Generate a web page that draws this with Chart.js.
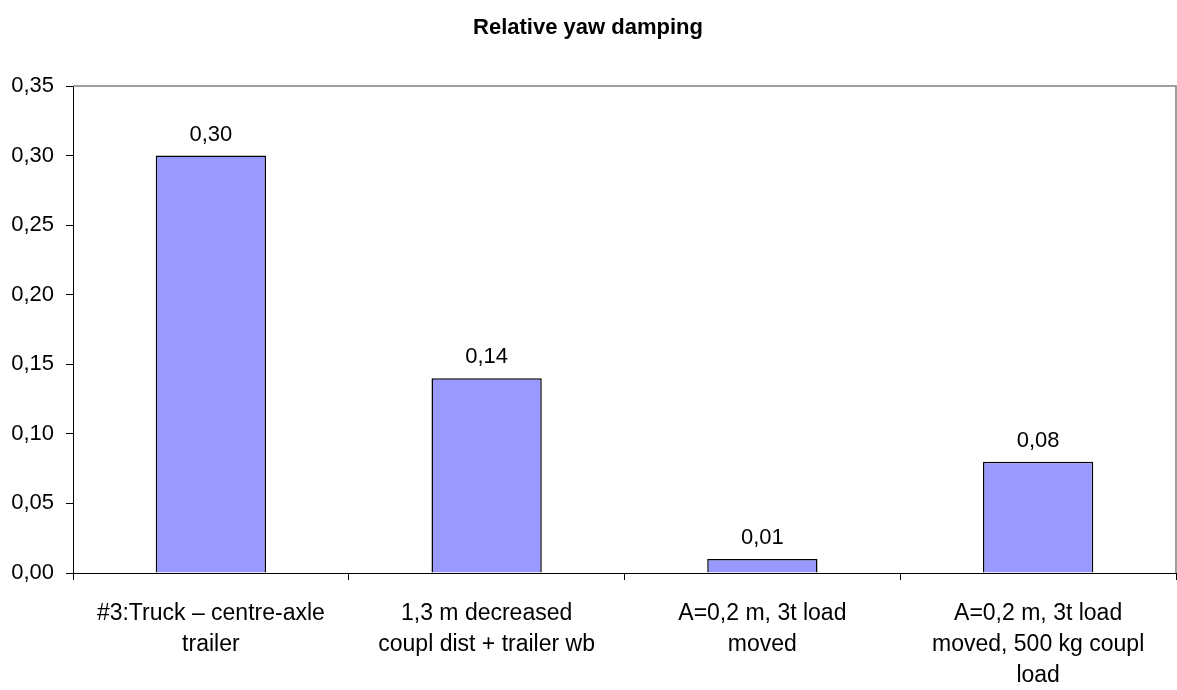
<!DOCTYPE html>
<html>
<head>
<meta charset="utf-8">
<script src="https://cdn.jsdelivr.net/npm/chart.js@4"></script>
<style>
  html, body { margin: 0; padding: 0; background: #fff; }
  canvas { display: block; }
</style>
</head>
<body>
<canvas id="chart" width="1177" height="690"></canvas>
<script>
// values
const categories = [
  ['#3:Truck \u2013 centre-axle', 'trailer'],
  ['1,3 m decreased', 'coupl dist + trailer wb'],
  ['A=0,2 m, 3t load', 'moved'],
  ['A=0,2 m, 3t load', 'moved, 500 kg coupl', 'load'],
];
const yawDamping = [0.30, 0.14, 0.01, 0.08];
const yMin = 0, yMax = 0.35, yStep = 0.05;

const FONT = "'Liberation Sans', Arial, sans-serif";
const fmt = v => v.toFixed(2).replace('.', ',');

// gray frame on top/right of the plot area, like the old spreadsheet chart
const frame = {
  id: 'frame',
  afterDraw(chart) {
    const { ctx, chartArea: a } = chart;
    ctx.save();
    ctx.strokeStyle = '#808080';
    ctx.lineWidth = 1.5;
    ctx.beginPath();
    ctx.moveTo(a.left, a.top);
    ctx.lineTo(a.right, a.top);
    ctx.lineTo(a.right, a.bottom);
    ctx.stroke();
    ctx.restore();
  },
};

// value labels above bars
const valueLabels = {
  id: 'valueLabels',
  afterDatasetsDraw(chart) {
    const { ctx } = chart;
    const meta = chart.getDatasetMeta(0);
    ctx.save();
    ctx.font = `22px ${FONT}`;
    ctx.fillStyle = '#000';
    ctx.textAlign = 'center';
    ctx.textBaseline = 'middle';
    meta.data.forEach((bar, i) => {
      ctx.fillText(fmt(yawDamping[i]), bar.x, bar.y - 21);
    });
    ctx.restore();
  },
};

new Chart(document.getElementById('chart'), {
  type: 'bar',
  data: {
    labels: categories,
    datasets: [{
      data: yawDamping,
      backgroundColor: '#9999FF',
      borderColor: '#000',
      borderWidth: 1.5,
      barPercentage: 0.4,
      categoryPercentage: 1,
    }],
  },
  options: {
    responsive: false,
    animation: false,
    layout: { padding: { top: 0, right: 1, bottom: 0, left: 0 } },
    plugins: {
      legend: { display: false },
      tooltip: { enabled: false },
      title: {
        display: true,
        text: 'Relative yaw damping',
        color: '#000',
        font: { family: FONT, size: 22, weight: 'bold', lineHeight: 1.2 },
        padding: { top: 15, bottom: 44.6 },
      },
    },
    scales: {
      x: {
        afterFit: s => { s.height = 117; },
        border: { color: '#000', width: 1 },
        grid: { offset: true, drawOnChartArea: false, tickLength: 7, color: '#000' },
        ticks: {
          color: '#000',
          maxRotation: 0,
          autoSkip: false,
          padding: 18,
          font: { family: FONT, size: 23, lineHeight: 31 / 23 },
        },
      },
      y: {
        min: yMin,
        max: yMax,
        afterFit: s => { s.width = 73; },
        border: { color: '#000', width: 1 },
        grid: { drawOnChartArea: false, tickLength: 7, color: '#000' },
        ticks: {
          stepSize: yStep,
          color: '#000',
          padding: 12,
          font: { family: FONT, size: 22 },
          callback: v => fmt(v),
        },
      },
    },
  },
  plugins: [frame, valueLabels],
});
</script>
</body>
</html>
